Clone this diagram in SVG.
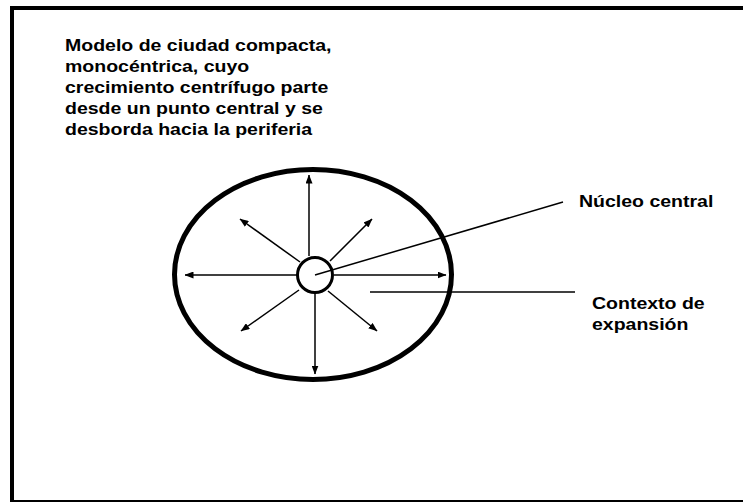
<svg xmlns="http://www.w3.org/2000/svg" width="743" height="502" viewBox="0 0 743 502">
<style>
.t{font-family:"Liberation Sans",Arial,sans-serif;font-weight:bold;font-size:16px;fill:#000}
.ln{stroke:#000;stroke-width:1.5;fill:none}
.ar{stroke:#000;stroke-width:1.5;fill:none;marker-end:url(#ah)}
</style>
<defs>
<marker id="ah" markerUnits="userSpaceOnUse" markerWidth="9" markerHeight="7" refX="8.5" refY="3.5" orient="auto">
<path d="M0,0 L9,3.5 L0,7 z" fill="#000"/>
</marker>
</defs>
<rect x="0" y="0" width="743" height="502" fill="#fff"/>
<rect id="frame" x="12" y="8" width="740" height="494" fill="none" stroke="#000" stroke-width="4"/>
<g id="titulo" transform="translate(65,0) scale(1.22,1)">
<text class="t" x="0" y="51">Modelo de ciudad compacta,</text>
<text class="t" x="0" y="72">monocéntrica, cuyo</text>
<text class="t" x="0" y="93">crecimiento centrífugo parte</text>
<text class="t" x="0" y="114">desde un punto central y se</text>
<text class="t" x="0" y="135">desborda hacia la periferia</text>
</g>
<g id="contexto">
<ellipse cx="313" cy="274.5" rx="138.5" ry="105" fill="none" stroke="#000" stroke-width="5"/>
</g>
<g id="nucleo">
<circle cx="315" cy="275" r="17.5" fill="#fff" stroke="#000" stroke-width="3"/>
</g>
<g id="connectors">
<line class="ar" x1="309" y1="256" x2="309" y2="175"/>
<line class="ar" x1="315" y1="294" x2="315" y2="374"/>
<line class="ar" x1="297" y1="275" x2="185" y2="275"/>
<line class="ar" x1="334" y1="275" x2="446" y2="275"/>
<line class="ar" x1="300" y1="262" x2="240" y2="219"/>
<line class="ar" x1="330" y1="261" x2="372" y2="219"/>
<line class="ar" x1="299" y1="290" x2="241" y2="331"/>
<line class="ar" x1="328" y1="291" x2="377" y2="331"/>
<line class="ln" x1="315" y1="275" x2="563" y2="202"/>
<line class="ln" x1="370" y1="292" x2="575" y2="292"/>
</g>
<g id="label-nucleo" transform="translate(579,0) scale(1.22,1)">
<text class="t" x="0" y="207">Núcleo central</text>
</g>
<g id="label-contexto" transform="translate(592,0) scale(1.22,1)">
<text class="t" x="0" y="309">Contexto de</text>
<text class="t" x="0" y="330">expansión</text>
</g>
</svg>
